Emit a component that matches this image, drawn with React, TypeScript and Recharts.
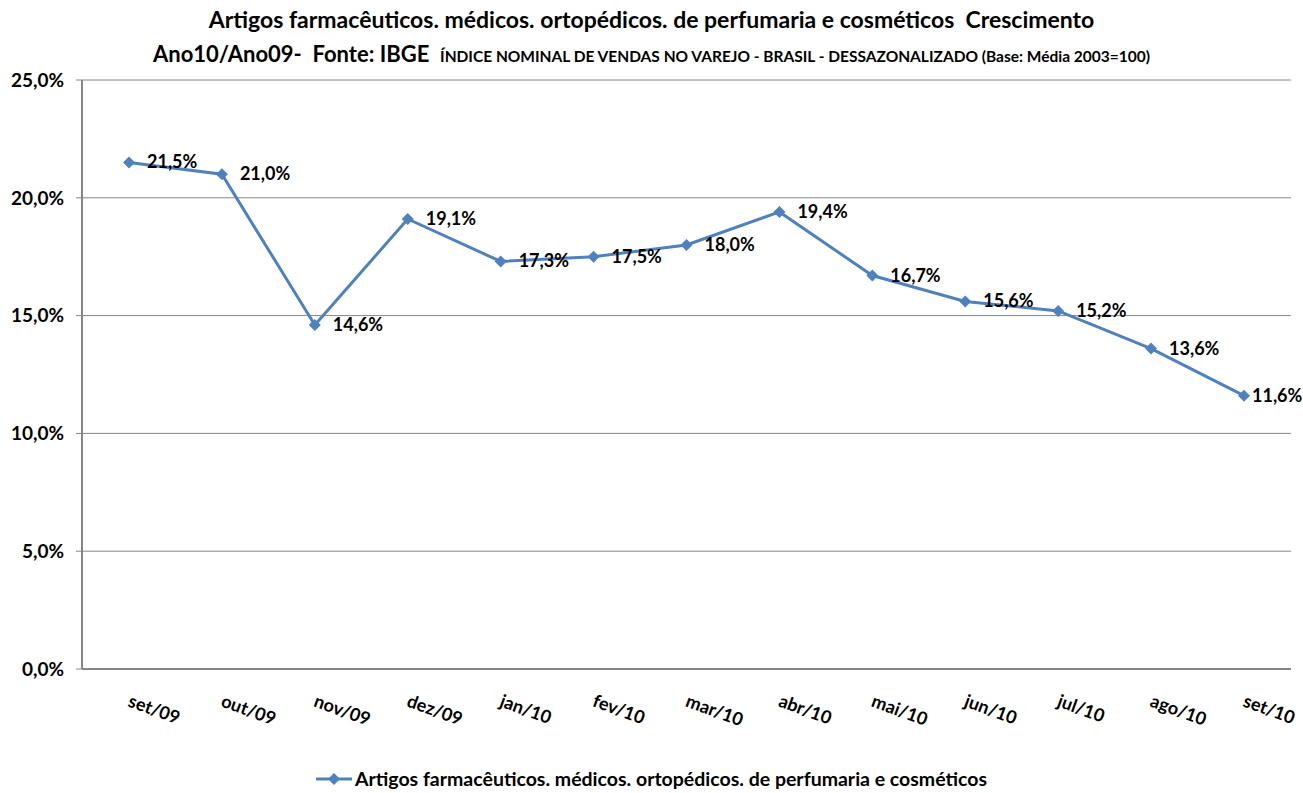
import { CartesianGrid, LabelList, Line, LineChart, XAxis, YAxis } from 'recharts';

const months = ['set/09', 'out/09', 'nov/09', 'dez/09', 'jan/10', 'fev/10', 'mar/10', 'abr/10', 'mai/10', 'jun/10', 'jul/10', 'ago/10', 'set/10'];
const growth = [21.5, 21.0, 14.6, 19.1, 17.3, 17.5, 18.0, 19.4, 16.7, 15.6, 15.2, 13.6, 11.6];
const yTicks = [0, 5, 10, 15, 20, 25];

const seriesName = 'Artigos farmacêuticos. médicos. ortopédicos. de perfumaria e cosméticos';
const font = 'Lato, "Open Sans", sans-serif';
const blue = '#4F81BD';
const gray = '#868686';

const data = months.map((m, i) => ({ month: m, value: growth[i] }));

const pct = (v: number) => `${v.toFixed(1).replace('.', ',')}%`;

function Diamond({ cx, cy }: { cx?: number; cy?: number }) {
  if (cx == null || cy == null) return null;
  const r = 6;
  return <path d={`M${cx},${cy - r}L${cx + r},${cy}L${cx},${cy + r}L${cx - r},${cy}Z`} fill={blue} />;
}

function MonthTick({ x, y, payload }: any) {
  return (
    <text
      x={x - 2}
      y={y + 29}
      transform={`rotate(20, ${x - 2}, ${y + 29})`}
      textAnchor="start"
      fontFamily={font}
      fontWeight={700}
      fontSize={18}
      fill="#000"
    >
      {payload.value}
    </text>
  );
}

function ValueLabel({ x, y, value }: any) {
  // the last label is pushed back inside the chart edge, as Excel does
  const lx = Math.min(x + 18, 1252);
  return (
    <text x={lx} y={y + 6} fontFamily={font} fontWeight={700} fontSize={18} fill="#000">
      {pct(value)}
    </text>
  );
}

export default function App() {
  return (
    <div style={{ position: 'absolute', left: 0, top: 0, width: 1303, height: 793, background: '#fff', fontFamily: font }}>
      <div style={{ position: 'absolute', top: 5, left: 0, width: 1303, textAlign: 'center', fontWeight: 700, fontSize: 23, color: '#000', whiteSpace: 'nowrap' }}>
        Artigos farmacêuticos. médicos. ortopédicos. de perfumaria e cosméticos&nbsp; Crescimento
      </div>
      <div style={{ position: 'absolute', top: 40, left: 0, width: 1303, textAlign: 'center', fontWeight: 700, color: '#000', whiteSpace: 'nowrap' }}>
        <span style={{ fontSize: 22 }}>Ano10/Ano09-&nbsp; Fonte: IBGE&nbsp; </span>
        <span style={{ fontSize: 15.5 }}>ÍNDICE NOMINAL DE VENDAS NO VAREJO - BRASIL - DESSAZONALIZADO (Base: Média 2003=100)</span>
      </div>
      <LineChart width={1303} height={793} data={data} margin={{ top: 80, right: 12, bottom: 54, left: 0 }}>
        <CartesianGrid stroke={gray} vertical={false} />
        <XAxis
          dataKey="month"
          axisLine={{ stroke: gray, strokeWidth: 2 }}
          tickLine={false}
          tick={<MonthTick />}
          height={70}
          interval={0}
          padding={{ left: 47, right: 47 }}
        />
        <YAxis
          domain={[0, 25]}
          ticks={yTicks}
          tickFormatter={pct}
          width={82}
          axisLine={{ stroke: gray, strokeWidth: 2 }}
          tickLine={{ stroke: gray }}
          tickSize={6}
          tickMargin={12}
          tick={{ fontFamily: font, fontWeight: 700, fontSize: 19, fill: '#000' }}
        />
        <Line
          dataKey="value"
          type="linear"
          stroke={blue}
          strokeWidth={3}
          dot={<Diamond />}
          activeDot={false}
          isAnimationActive={false}
        >
          <LabelList dataKey="value" content={<ValueLabel />} />
        </Line>
      </LineChart>
      <div style={{ position: 'absolute', top: 767, left: 0, width: 1303, display: 'flex', justifyContent: 'center', alignItems: 'center' }}>
        <svg width={36} height={14} style={{ marginRight: 3 }}>
          <line x1={0} y1={7} x2={36} y2={7} stroke={blue} strokeWidth={3} />
          <path d="M18,1L24,7L18,13L12,7Z" fill={blue} />
        </svg>
        <span style={{ fontWeight: 700, fontSize: 19.5, color: '#000', whiteSpace: 'nowrap' }}>{seriesName}</span>
      </div>
    </div>
  );
}
